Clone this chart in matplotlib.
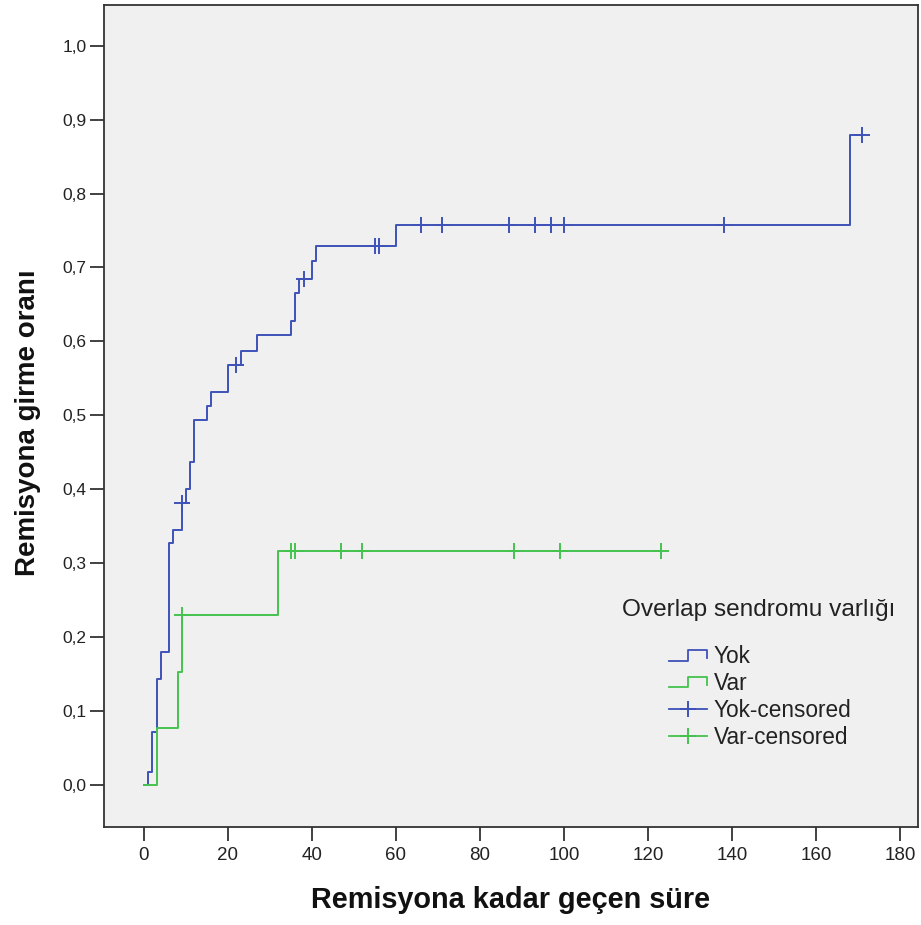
import numpy as np
import matplotlib
matplotlib.use("Agg")
import matplotlib.pyplot as plt
from matplotlib.lines import Line2D
from matplotlib.legend_handler import HandlerBase

# ---------------- data ----------------
yok_event_times = [1, 2, 3, 4, 6, 7, 9, 10, 11, 12, 15, 16, 20, 23, 27, 35, 36, 37, 40, 41, 60, 168]
yok_cum = [0.017, 0.072, 0.144, 0.180, 0.327, 0.345, 0.381, 0.400, 0.437, 0.494, 0.512,
           0.531, 0.568, 0.587, 0.608, 0.627, 0.665, 0.685, 0.709, 0.729, 0.757, 0.879]
yok_censor_times = [9, 22, 38, 55, 56, 66, 71, 87, 93, 97, 100, 138, 171]

var_event_times = [3, 8, 9, 32]
var_cum = [0.077, 0.153, 0.230, 0.316]
var_censor_times = [9, 35, 36, 47, 52, 88, 99, 123]

group_labels = ["Yok", "Var"]
legend_title = "Overlap sendromu varlığı"
x_label = "Remisyona kadar geçen süre"
y_label = "Remisyona girme oranı"
x_ticks = [0, 20, 40, 60, 80, 100, 120, 140, 160, 180]
y_ticks = [0.0, 0.1, 0.2, 0.3, 0.4, 0.5, 0.6, 0.7, 0.8, 0.9, 1.0]
y_ticklabels = ["0,0", "0,1", "0,2", "0,3", "0,4", "0,5", "0,6", "0,7", "0,8", "0,9", "1,0"]

# ---------------- style ----------------
BLUE = "#3E52B8"
GREEN = "#45C24E"
plt.rcParams["font.family"] = ["Liberation Sans", "DejaVu Sans"]

W, H = 921, 925
fig = plt.figure(figsize=(W / 100, H / 100), dpi=100)
fig.patch.set_facecolor("white")
ax = fig.add_axes([103.5 / W, 1 - 826.5 / H, (918 - 103.5) / W, (826.5 - 5) / H])
ax.set_facecolor("#F0F0F0")


def step_curve(times, cum, censors):
    end = max(max(times), max(censors))
    x = np.concatenate([[0.0], np.asarray(times, float), [end]])
    y = np.concatenate([[0.0], np.asarray(cum, float), [cum[-1]]])
    return x, y


def censor_values(times, cum, censors):
    idx = np.searchsorted(np.asarray(times), np.asarray(censors), side="right")
    vals = np.concatenate([[0.0], np.asarray(cum, float)])
    return vals[idx]


for times, cum, cens, col in [
    (yok_event_times, yok_cum, yok_censor_times, BLUE),
    (var_event_times, var_cum, var_censor_times, GREEN),
]:
    x, y = step_curve(times, cum, cens)
    ax.step(x, y, where="post", color=col, lw=1.4, zorder=3)
    cy = censor_values(times, cum, cens)
    ax.plot(cens, cy, ls="none", marker="+", ms=12, mew=1.4, color=col, zorder=4)

ax.set_xlim(-9.64, 184.3)
ax.set_ylim(-0.0561, 1.055)
ax.set_xticks(x_ticks)
ax.set_xticklabels([str(t) for t in x_ticks])
ax.set_yticks(y_ticks)
ax.set_yticklabels(y_ticklabels)

for s in ax.spines.values():
    s.set_color("#333333")
    s.set_linewidth(1.3)
ax.tick_params(axis="both", direction="out", length=10, width=1.3, color="#333333",
               labelsize=12.5, labelcolor="#222222")
ax.tick_params(axis="x", labelsize=13.5)
ax.tick_params(axis="y", pad=2)
ax.tick_params(axis="x", pad=5)

fig.text(511 / W, 1 - 900 / H, x_label, ha="center", va="center", fontsize=20.8,
         fontweight="bold", color="#111111")
fig.text(28 / W, 1 - 423 / H, y_label, ha="center", va="center", fontsize=20,
         fontweight="bold", rotation=90, color="#111111")


class StepHandler(HandlerBase):
    def create_artists(self, legend, orig_handle, xdescent, ydescent, width, height,
                       fontsize, trans):
        x0 = -xdescent
        y0 = -ydescent
        xs = [x0, x0 + 0.5 * width, x0 + 0.5 * width, x0 + width, x0 + width]
        ys = [y0 + 0.15 * height, y0 + 0.15 * height, y0 + 0.8 * height,
              y0 + 0.8 * height, y0 + 0.3 * height]
        ln = Line2D(xs, ys, color=orig_handle.get_color(), lw=1.3)
        ln.set_transform(trans)
        return [ln]


h_yok = Line2D([], [], color=BLUE, lw=1.3)
h_var = Line2D([], [], color=GREEN, lw=1.3)
h_yok_c = Line2D([], [], color=BLUE, lw=1.3, marker="+", ms=12, mew=1.4)
h_var_c = Line2D([], [], color=GREEN, lw=1.3, marker="+", ms=12, mew=1.4)

leg_fs = 16.3
leg = ax.legend(
    [h_yok, h_var, h_yok_c, h_var_c],
    [group_labels[0], group_labels[1], group_labels[0] + "-censored", group_labels[1] + "-censored"],
    handler_map={h_yok: StepHandler(), h_var: StepHandler()},
    loc="upper left", bbox_to_anchor=(669 / W, 1 - 645 / H), bbox_transform=fig.transFigure,
    frameon=False, fontsize=leg_fs, handlelength=38 / (leg_fs * 100 / 72), handletextpad=0.3,
    labelspacing=0.17, borderpad=0, borderaxespad=0,
)
for t in leg.get_texts():
    t.set_color("#222222")

fig.text(622 / W, 1 - 610 / H, legend_title, ha="left", va="center", fontsize=17.6,
         color="#222222")

fig.savefig("out.png", dpi=100)
